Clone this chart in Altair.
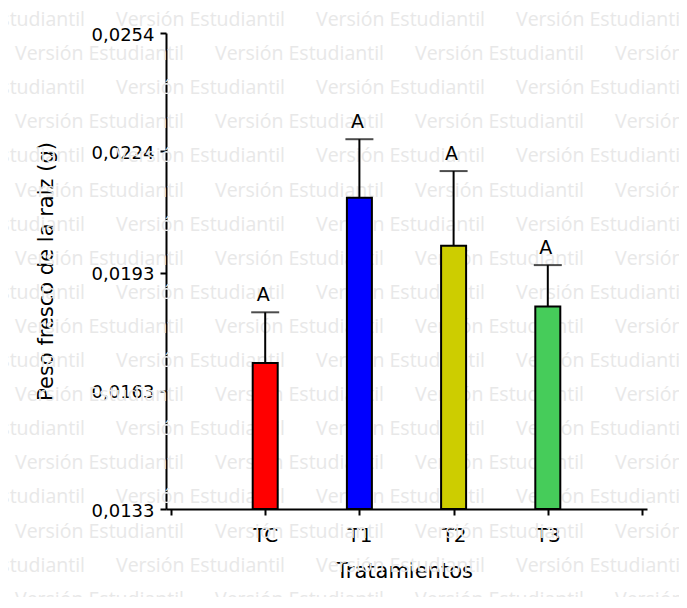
import json
import altair as alt
import pandas as pd

# ---- data ----
categories = ["TC", "T1", "T2", "T3"]
means = [0.01701, 0.02121, 0.01999, 0.01845]
errors = [0.00129, 0.00149, 0.00190, 0.00105]
letters = ["A", "A", "A", "A"]
colors = ["#ff0000", "#0000ff", "#cdcd00", "#46cc5a"]
y_ticks = [0.0133, 0.0163, 0.0193, 0.0224, 0.0254]
x_tick_labels = [""] + categories + [""]
watermark_text = "Versión Estudiantil"
wm_rows = list(range(18))
wm_cols = list(range(5))

df = pd.DataFrame({
    "cat": categories,
    "pos": list(range(1, len(categories) + 1)),
    "mean": means,
    "err": errors,
    "letter": letters,
})
df["upper"] = df["mean"] + df["err"]

wm = pd.DataFrame([(r, k) for r in wm_rows for k in wm_cols], columns=["r", "k"])

FONT = "DejaVu Sans"

xscale = alt.Scale(domain=[0, len(categories) + 1], nice=False, zero=False)
yscale = alt.Scale(domain=[y_ticks[0], y_ticks[-1]], nice=False, zero=False)

xaxis = alt.Axis(
    title="Tratamientos", values=list(range(len(x_tick_labels))),
    labelExpr=json.dumps(x_tick_labels) + "[datum.value]",
    grid=False, domainColor="black", domainWidth=2, tickColor="black", tickWidth=2,
    tickSize=6, labelFont=FONT, labelFontSize=20, labelColor="black", labelPadding=10,
    labelFlush=False, labelOverlap=False,
    titleFont=FONT, titleFontSize=21, titleFontWeight="normal", titleColor="black",
    titleBaseline="alphabetic", titleAlign="center", titleX=238, titleY=68,
)
yaxis = alt.Axis(
    title="Peso fresco de la raiz (g)", values=y_ticks,
    labelExpr="replace(format(datum.value, '.4f'), '.', ',')",
    grid=False, domainColor="black", domainWidth=2, tickColor="black", tickWidth=2,
    tickSize=6, labelFont=FONT, labelFontSize=18, labelColor="black", labelPadding=6,
    labelFlush=False, labelOverlap=False, labelBaseline="middle", labelOffset=2,
    titleFont=FONT, titleFontSize=21, titleFontWeight="normal", titleColor="black",
    titleBaseline="alphabetic", titleAlign="center", titleAngle=-90, titleX=-114, titleY=238,
)

x_enc = alt.X("pos:Q", scale=xscale, axis=xaxis)

bars = alt.Chart(df).mark_bar(size=25, stroke="black", strokeWidth=2).encode(
    x=x_enc,
    y=alt.Y("mean:Q", scale=yscale, axis=yaxis),
    y2=alt.datum(y_ticks[0]),
    color=alt.Color("cat:N", scale=alt.Scale(domain=categories, range=colors), legend=None),
)
err_rule = alt.Chart(df).mark_rule(color="black", strokeWidth=2).encode(
    x=x_enc,
    y=alt.Y("mean:Q", scale=yscale, axis=yaxis),
    y2="upper:Q",
)
err_cap = alt.Chart(df).mark_tick(color="black", orient="horizontal", size=28, thickness=2).encode(
    x=x_enc,
    y=alt.Y("upper:Q", scale=yscale, axis=yaxis),
)
letter_txt = alt.Chart(df).mark_text(
    font=FONT, fontSize=19, color="black", baseline="alphabetic", dy=-11, dx=-2
).encode(
    x=x_enc,
    y=alt.Y("upper:Q", scale=yscale, axis=yaxis),
    text="letter:N",
)

data_layer = alt.layer(err_rule, bars, err_cap, letter_txt)

watermark = alt.Chart(wm).mark_text(
    font="Open Sans", fontSize=19.5, color="#e8e8e8", align="left", baseline="alphabetic"
).transform_calculate(
    wx="-166 + (datum.r % 2 == 1 ? 15 : -84) + 200 * datum.k",
    wy="-33 + 26 + 34.1 * datum.r",
).encode(
    x=alt.X("wx:Q", scale=None, axis=None),
    y=alt.Y("wy:Q", scale=None, axis=None),
    text=alt.value(watermark_text),
)

chart = alt.layer(watermark, data_layer).resolve_scale(
    x="independent", y="independent"
).properties(
    width=481, height=476,
    padding={"left": 158, "top": 25, "right": 32, "bottom": 88},
    autosize=alt.AutoSizeParams(type="none"),
    background="white",
).configure_view(stroke=None)

chart.save("out.html", embed_options={"renderer": "svg", "actions": False})
